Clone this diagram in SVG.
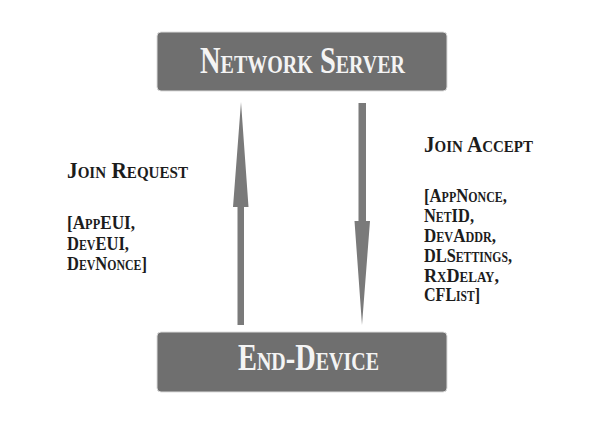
<svg xmlns="http://www.w3.org/2000/svg" width="600" height="431" viewBox="0 0 600 431">
<style>
.box{fill:#6f6f6f;stroke:#dcdcdc;stroke-width:1}
.bt{fill:#f4f4f4;font-family:"Liberation Serif","Times New Roman",serif;font-weight:bold;font-variant:small-caps;font-size:37px}
.lbl{fill:#1c1c1c;font-family:"Liberation Serif","Times New Roman",serif;font-weight:bold;font-variant:small-caps}
.h{font-size:24px}
.l{font-size:19.5px}
.arr{fill:#7a7a7a}
</style>
<rect width="600" height="431" fill="#ffffff"/>
<g id="network-server">
<rect class="box" x="157" y="32" width="290" height="59" rx="4"/>
<text class="bt" x="200" y="73" textLength="205" lengthAdjust="spacingAndGlyphs">Network Server</text>
</g>
<g id="end-device">
<rect class="box" x="157" y="332" width="290" height="60" rx="4"/>
<text class="bt" x="238" y="370" textLength="141" lengthAdjust="spacingAndGlyphs">End-Device</text>
</g>
<g id="connectors">
<polygon class="arr" points="237.5,325 244,325 244,207 248.5,207 241,102 233,207 237.5,207"/>
<polygon class="arr" points="358.5,103 366,103 366,221 370,221 362,325 354.5,221 358.5,221"/>
</g>
<g id="join-request">
<text class="lbl h" x="67" y="178" textLength="121" lengthAdjust="spacingAndGlyphs">Join Request</text>
<text class="lbl l" x="67" y="229" textLength="68" lengthAdjust="spacingAndGlyphs">[AppEUI,</text>
<text class="lbl l" x="67" y="250" textLength="62" lengthAdjust="spacingAndGlyphs">DevEUI,</text>
<text class="lbl l" x="67" y="270" textLength="80" lengthAdjust="spacingAndGlyphs">DevNonce]</text>
</g>
<g id="join-accept">
<text class="lbl h" x="424" y="152" textLength="109" lengthAdjust="spacingAndGlyphs">Join Accept</text>
<text class="lbl l" x="424" y="202" textLength="83" lengthAdjust="spacingAndGlyphs">[AppNonce,</text>
<text class="lbl l" x="424" y="222" textLength="50" lengthAdjust="spacingAndGlyphs">NetID,</text>
<text class="lbl l" x="424" y="242" textLength="72" lengthAdjust="spacingAndGlyphs">DevAddr,</text>
<text class="lbl l" x="424" y="262" textLength="88" lengthAdjust="spacingAndGlyphs">DLSettings,</text>
<text class="lbl l" x="424" y="282" textLength="75" lengthAdjust="spacingAndGlyphs">RxDelay,</text>
<text class="lbl l" x="424" y="301" textLength="56" lengthAdjust="spacingAndGlyphs">CFList]</text>
</g>
</svg>
